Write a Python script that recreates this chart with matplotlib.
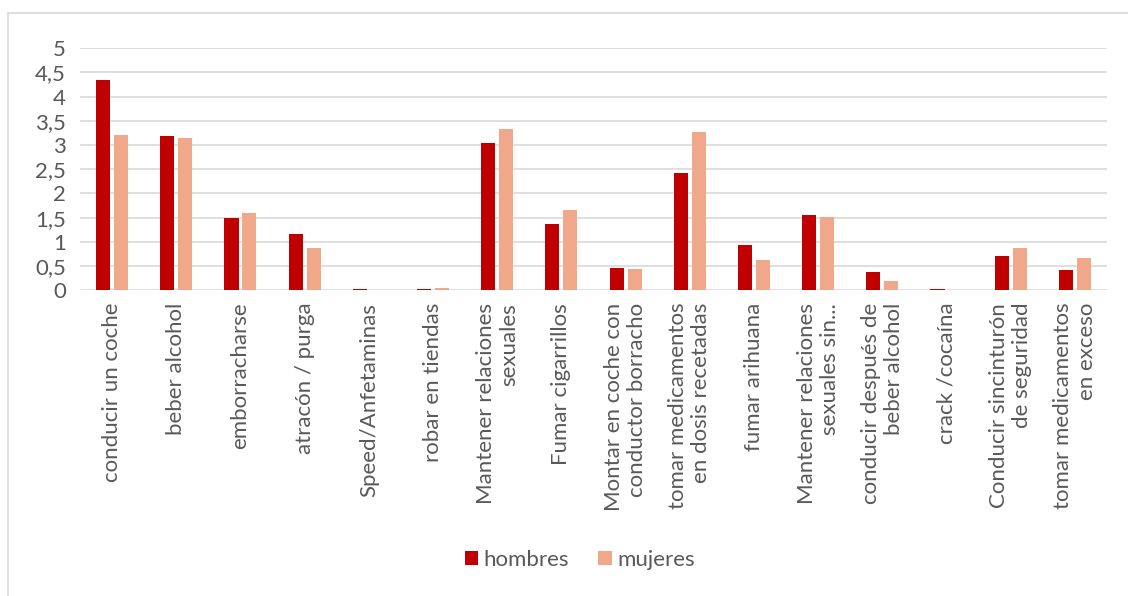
import matplotlib
matplotlib.use('Agg')
import matplotlib.pyplot as plt
import numpy as np

categories = ['conducir un coche', 'beber alcohol', 'emborracharse', 'atracón / purga',
              'Speed/Anfetaminas', 'robar en tiendas', 'Mantener relaciones\nsexuales',
              'Fumar cigarrillos', 'Montar en coche con\nconductor borracho',
              'tomar medicamentos\nen dosis recetadas', 'fumar arihuana',
              'Mantener relaciones\nsexuales sin...', 'conducir después de\nbeber alcohol',
              'crack /cocaína', 'Conducir sincinturón\nde seguridad',
              'tomar medicamentos\nen exceso']
hombres = [4.34, 3.19, 1.49, 1.16, 0.03, 0.03, 3.05, 1.36, 0.46, 2.42, 0.93, 1.56, 0.38, 0.02, 0.71, 0.42]
mujeres = [3.20, 3.14, 1.60, 0.87, 0.01, 0.05, 3.33, 1.65, 0.45, 3.27, 0.63, 1.52, 0.20, 0.01, 0.87, 0.66]
yticks = [0, 0.5, 1, 1.5, 2, 2.5, 3, 3.5, 4, 4.5, 5]
ytick_labels = ['0', '0,5', '1', '1,5', '2', '2,5', '3', '3,5', '4', '4,5', '5']

plt.rcParams['font.family'] = ['Lato', 'DejaVu Sans']
txt = '#595959'

fig = plt.figure(figsize=(11.28, 5.96), dpi=100)
ax = fig.add_axes([0.0709, 0.5129, 0.9105, 0.4061])

x = np.arange(len(categories))
w = 0.22
ax.bar(x - 0.14, hombres, w, color='#c00000', label='hombres', zorder=3)
ax.bar(x + 0.14, mujeres, w, color='#f1a78a', label='mujeres', zorder=3)

ax.set_xlim(-0.5, len(categories) - 0.5)
ax.set_ylim(0, 5)
ax.set_yticks(yticks)
ax.set_yticklabels(ytick_labels)
ax.set_xticks(x)
ax.set_xticklabels(categories, rotation=90, multialignment='right')
ax.tick_params(axis='both', length=0, labelsize=16, colors=txt)
ax.tick_params(axis='x', pad=9)
ax.tick_params(axis='y', pad=10)
ax.yaxis.grid(True, color='#d9d9d9', linewidth=1.2, zorder=0)
for s in ax.spines.values():
    s.set_visible(False)

fig.legend(loc='center', bbox_to_anchor=(0.514, 0.06), ncol=2, frameon=False,
           fontsize=16, labelcolor=txt, handlelength=0.6, handleheight=0.6,
           handletextpad=0.25, columnspacing=1.3)

border = plt.Rectangle((8 / 1128, -0.1), 1.2, 1.1 - 13 / 596,
                       transform=fig.transFigure, fill=False,
                       edgecolor='#d9d9d9', linewidth=1.2)
fig.patches.append(border)

fig.savefig('out.png', dpi=100)
